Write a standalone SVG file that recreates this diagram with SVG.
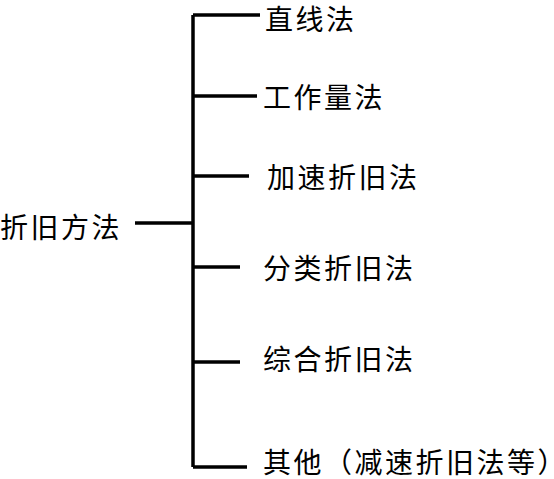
<svg xmlns="http://www.w3.org/2000/svg" width="554" height="479" viewBox="0 0 554 479">
<style>
.t{font-family:"Noto Sans CJK SC","Noto Sans CJK JP",sans-serif;font-size:28px;letter-spacing:2.5px;fill:#000;dominant-baseline:central}
.c{stroke:#000;stroke-width:3.5;fill:none}
</style>
<rect width="554" height="479" fill="#fff"/>
<g id="connectors">
<line class="c" x1="193" y1="15" x2="193" y2="467"/>
<line class="c" x1="135" y1="223" x2="193" y2="223"/>
<line class="c" x1="193" y1="15" x2="260" y2="15"/>
<line class="c" x1="193" y1="96" x2="257" y2="96"/>
<line class="c" x1="193" y1="176" x2="249" y2="176"/>
<line class="c" x1="193" y1="267" x2="240" y2="267"/>
<line class="c" x1="193" y1="362" x2="240" y2="362"/>
<line class="c" x1="193" y1="467" x2="247" y2="467"/>
</g>
<g id="root"><text class="t" x="0" y="226">折旧方法</text></g>
<g id="n1"><text class="t" x="265" y="18">直线法</text></g>
<g id="n2"><text class="t" x="263" y="96">工作量法</text></g>
<g id="n3"><text class="t" x="267" y="176">加速折旧法</text></g>
<g id="n4"><text class="t" x="263" y="267">分类折旧法</text></g>
<g id="n5"><text class="t" x="263" y="358">综合折旧法</text></g>
<g id="n6"><text class="t" x="263" y="461">其他（减速折旧法等）</text></g>
</svg>
